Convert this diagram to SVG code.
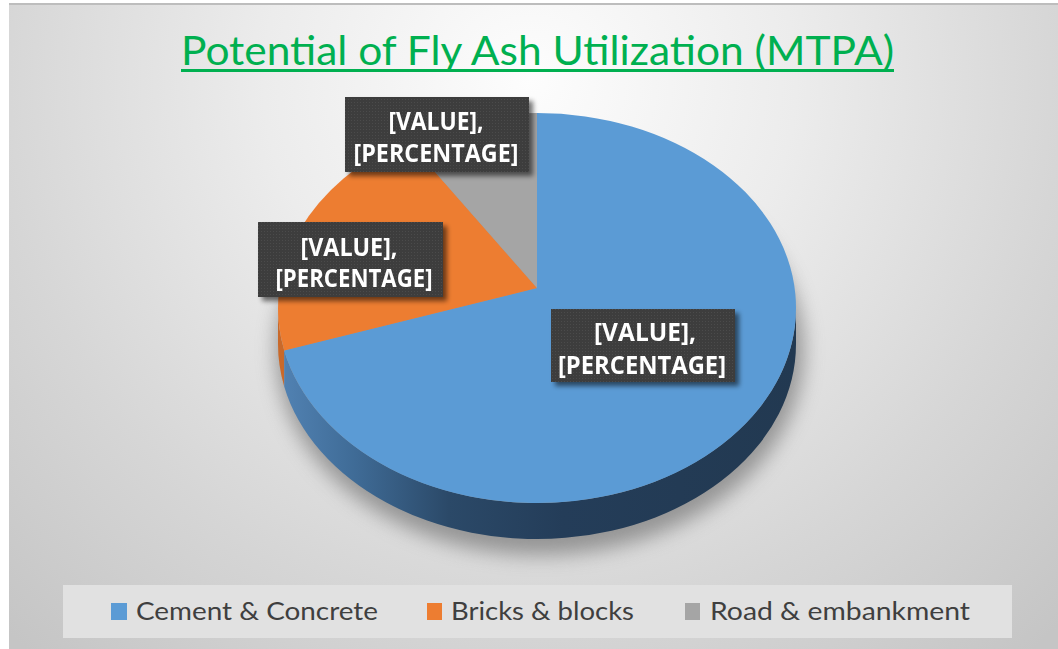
<svg xmlns="http://www.w3.org/2000/svg" width="1058" height="649" viewBox="0 0 1058 649">
  <defs>
    <radialGradient id="bg" gradientUnits="userSpaceOnUse" cx="530" cy="80" r="760">
      <stop offset="0" stop-color="#fdfdfd"/>
      <stop offset="0.35" stop-color="#ececec"/>
      <stop offset="0.7" stop-color="#d6d6d6"/>
      <stop offset="1" stop-color="#c5c5c5"/>
    </radialGradient>
    <linearGradient id="sideBlue" gradientUnits="userSpaceOnUse" x1="278" y1="0" x2="796" y2="0">
      <stop offset="0" stop-color="#5283b4"/>
      <stop offset="0.15" stop-color="#3f6b96"/>
      <stop offset="0.33" stop-color="#2b4968"/>
      <stop offset="0.55" stop-color="#243d59"/>
      <stop offset="1" stop-color="#223951"/>
    </linearGradient>
    <filter id="blur" x="-20%" y="-20%" width="140%" height="140%">
      <feGaussianBlur stdDeviation="10"/>
    </filter>
    <filter id="drop" x="-10%" y="-20%" width="130%" height="150%">
      <feGaussianBlur in="SourceAlpha" stdDeviation="2.5"/>
      <feOffset dx="4" dy="4" result="b"/>
      <feComponentTransfer><feFuncA type="linear" slope="0.55"/></feComponentTransfer>
      <feMerge><feMergeNode/><feMergeNode in="SourceGraphic"/></feMerge>
    </filter>
    <pattern id="dots" width="3" height="3" patternUnits="userSpaceOnUse">
      <rect width="3" height="3" fill="#3d3d3d"/>
      <rect width="1" height="1" fill="#4b4b4b"/>
    </pattern>
  </defs>
  <style>
    .lbl { fill: url(#dots); }
    .lt { font-family: "Open Sans", "Liberation Sans", sans-serif; font-weight: 700; font-size: 25px; fill: #ffffff; text-anchor: middle; }
    .leg { font-family: Lato, "Open Sans", sans-serif; font-size: 25px; fill: #3f3f3f; }
  </style>

  <rect width="1058" height="649" fill="#ffffff"/>
  <rect x="9" y="3" width="1049" height="2" fill="#bdbdbd"/>
  <rect x="9" y="5" width="1049" height="644" fill="url(#bg)"/>

  <g id="title">
    <text x="181" y="65" textLength="713" lengthAdjust="spacingAndGlyphs" font-family="Lato, 'Open Sans', sans-serif" font-size="40" fill="#00b050">Potential of Fly Ash Utilization (MTPA)</text>
    <rect x="181" y="69" width="713" height="3" fill="#00b050"/>
  </g>

  <g id="pie">
    <ellipse cx="540" cy="350" rx="264" ry="205" fill="#6e6e6e" opacity="0.65" filter="url(#blur)"/>
    <path d="M278,308 A259,195 0 0,0 284.2,350.4 L284.2,386.4 A259,195 0 0,1 278,344 Z" fill="#c9692a"/>
    <path d="M284.2,350.4 A259,195 0 0,0 796,308 L796,344 A259,195 0 0,1 284.2,386.4 Z" fill="url(#sideBlue)"/>
    <path id="slice-cement" d="M537,288 L284.2,350.4 A259,195 0 1,0 537,113 Z" fill="#5b9bd5"/>
    <path id="slice-bricks" d="M537,288 L406.5,139.6 A259,195 0 0,0 284.2,350.4 Z" fill="#ed7d31"/>
    <path id="slice-road" d="M537,288 L537,113 A259,195 0 0,0 406.5,139.6 Z" fill="#a5a5a5"/>
  </g>

  <g id="label-road" filter="url(#drop)">
    <rect class="lbl" x="345" y="97" width="184" height="75"/>
    <text class="lt" x="436" y="130" textLength="95" lengthAdjust="spacingAndGlyphs">[VALUE],</text>
    <text class="lt" x="436" y="162" textLength="165" lengthAdjust="spacingAndGlyphs">[PERCENTAGE]</text>
  </g>
  <g id="label-bricks" filter="url(#drop)">
    <rect class="lbl" x="258" y="222" width="185" height="75"/>
    <text class="lt" x="349" y="256" textLength="97" lengthAdjust="spacingAndGlyphs">[VALUE],</text>
    <text class="lt" x="354" y="287" textLength="157" lengthAdjust="spacingAndGlyphs">[PERCENTAGE]</text>
  </g>
  <g id="label-cement" filter="url(#drop)">
    <rect class="lbl" x="551" y="309" width="184" height="73"/>
    <text class="lt" x="645" y="341" textLength="102" lengthAdjust="spacingAndGlyphs">[VALUE],</text>
    <text class="lt" x="642" y="374" textLength="168" lengthAdjust="spacingAndGlyphs">[PERCENTAGE]</text>
  </g>

  <g id="legend">
    <rect x="63" y="585" width="949" height="53" fill="#e1e1e1"/>
    <rect x="111" y="603" width="16" height="17" fill="#5b9bd5"/>
    <text class="leg" x="136" y="620" textLength="242" lengthAdjust="spacingAndGlyphs">Cement &amp; Concrete</text>
    <rect x="427" y="603" width="15" height="17" fill="#ed7d31"/>
    <text class="leg" x="451" y="620" textLength="183" lengthAdjust="spacingAndGlyphs">Bricks &amp; blocks</text>
    <rect x="685" y="603" width="15" height="17" fill="#a5a5a5"/>
    <text class="leg" x="710" y="620" textLength="260" lengthAdjust="spacingAndGlyphs">Road &amp; embankment</text>
  </g>
</svg>
